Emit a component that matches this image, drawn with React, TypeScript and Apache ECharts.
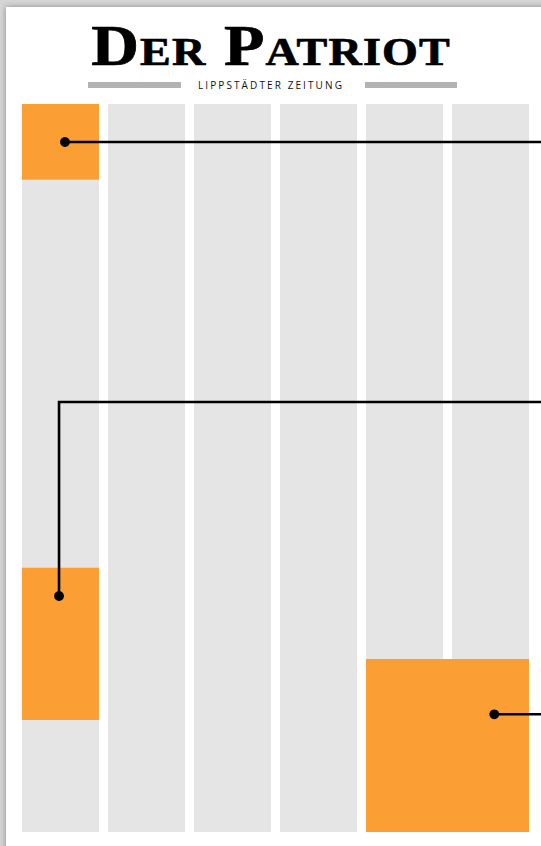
import React, { useEffect, useRef } from "react";
import * as echarts from "echarts";

// Newspaper page: six text columns (x in column units, y in % of column height)
const columns = ["Spalte 1", "Spalte 2", "Spalte 3", "Spalte 4", "Spalte 5", "Spalte 6"];
const columnStart = [0, 1, 2, 3, 4, 5];
const pageTop = 0;
const pageBottom = 100;

// Highlighted ad areas
const areaNames = ["Anzeige oben", "Anzeige Mitte", "Anzeige unten"];
const areaColStart = [0, 0, 4];
const areaColEnd = [1, 1, 6];
const areaTop = [0, 63.7, 76.24];
const areaBottom = [10.4, 84.6, 100];

// Leader-line anchors for each area
const dotX = [0.552, 0.483, 5.544];
const dotY = [5.22, 67.58, 83.83];
const elbowY = [5.22, 40.93, 83.83];

const masthead = "Der Patriot";
const subline = "LIPPSTÄDTER ZEITUNG";

const GAP = 9;

export default function App() {
  const ref = useRef<HTMLDivElement>(null);

  useEffect(() => {
    if (!ref.current) return;
    const chart = echarts.init(ref.current, null, { renderer: "svg" });

    const option: any = {
      animation: false,
      backgroundColor: "#ffffff",
      grid: { left: 17.5, right: 7.5, top: 104, bottom: 14 },
      xAxis: { type: "value", min: 0, max: 6, show: false },
      yAxis: { type: "value", min: 0, max: 100, inverse: true, show: false },
      graphic: [
        { type: "rect", z: -10, shape: { x: 0, y: 0, width: 541, height: 846 }, style: { fill: "#d6d6d6" } },
        {
          type: "rect",
          z: -9,
          shape: { x: 6, y: 7, width: 560, height: 860 },
          style: { fill: "#ffffff", shadowBlur: 6, shadowColor: "rgba(0,0,0,0.35)" },
        },
        {
          type: "text",
          id: "masthead",
          x: 271,
          y: 46,
          scaleX: 1.16,
          style: {
            text: masthead,
            font: "small-caps bold 57px 'Liberation Serif', serif",
            fill: "#000000",
            stroke: "#000000",
            lineWidth: 0.7,
            textAlign: "center",
            textVerticalAlign: "middle",
          },
        },
        { type: "rect", shape: { x: 88, y: 82, width: 93, height: 6 }, style: { fill: "#b3b3b3" } },
        { type: "rect", shape: { x: 365, y: 82, width: 92, height: 6 }, style: { fill: "#b3b3b3" } },
        {
          type: "text",
          x: 271,
          y: 85,
          style: {
            text: subline,
            font: "10px 'Open Sans', sans-serif",
            fill: "#111111",
            textAlign: "center",
            textVerticalAlign: "middle",
          },
        },
      ],
      series: [
        {
          type: "custom",
          name: "Spalten",
          silent: true,
          z: 1,
          encode: { x: [0, 0], y: [1, 2] },
          data: columnStart.map((c, i) => ({ name: columns[i], value: [c, pageTop, pageBottom] })),
          renderItem: (params: any, api: any) => {
            const c = api.value(0);
            const a = api.coord([c, api.value(1)]);
            const b = api.coord([c + 1, api.value(2)]);
            return {
              type: "rect",
              shape: { x: a[0] + GAP / 2, y: a[1], width: b[0] - a[0] - GAP, height: b[1] - a[1] },
              style: { fill: "#e5e5e5" },
            };
          },
        },
        {
          type: "custom",
          name: "Anzeigen",
          silent: true,
          z: 2,
          encode: { x: [0, 1], y: [2, 3] },
          data: areaColStart.map((c, i) => ({
            name: areaNames[i],
            value: [c, areaColEnd[i], areaTop[i], areaBottom[i]],
          })),
          renderItem: (params: any, api: any) => {
            const a = api.coord([api.value(0), api.value(2)]);
            const b = api.coord([api.value(1), api.value(3)]);
            return {
              type: "rect",
              shape: { x: a[0] + GAP / 2, y: a[1], width: b[0] - a[0] - GAP, height: b[1] - a[1] },
              style: { fill: "#fb9f35" },
            };
          },
        },
        {
          type: "custom",
          name: "Hinweise",
          silent: true,
          z: 3,
          clip: false,
          encode: { x: 0, y: [1, 2] },
          data: dotX.map((x, i) => ({ name: areaNames[i], value: [x, dotY[i], elbowY[i]] })),
          renderItem: (params: any, api: any) => {
            const p = api.coord([api.value(0), api.value(1)]);
            const e = api.coord([api.value(0), api.value(2)]);
            const w = api.getWidth();
            return {
              type: "group",
              children: [
                {
                  type: "polyline",
                  shape: { points: [p, e, [w + 2, e[1]]] },
                  style: { stroke: "#000000", lineWidth: 2.6, fill: null },
                },
                { type: "circle", shape: { cx: p[0], cy: p[1], r: 4.9 }, style: { fill: "#000000" } },
              ],
            };
          },
        },
      ],
    };

    chart.setOption(option);

    const texts = ref.current.querySelectorAll("text");
    texts.forEach((t) => {
      if (t.textContent === masthead) t.setAttribute("letter-spacing", "1");
      if (t.textContent === subline) t.setAttribute("letter-spacing", "2.1");
    });

    return () => chart.dispose();
  }, []);

  return (
    <div
      ref={ref}
      style={{ position: "fixed", left: 0, top: 0, width: 541, height: 846 }}
    />
  );
}
